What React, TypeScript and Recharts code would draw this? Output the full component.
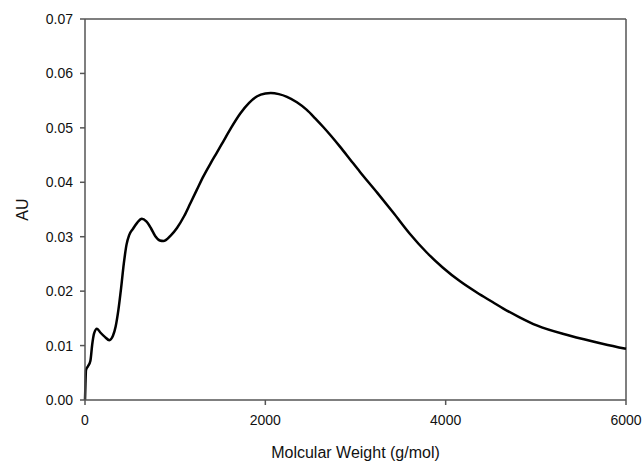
import { LineChart, Line, XAxis, YAxis, ReferenceLine } from 'recharts';

// Molecular weight (g/mol) sample positions
const weights = [
  0, 5, 11, 33, 60, 80, 100, 133, 170, 220, 270, 310, 340, 370, 400, 430, 460, 490,
  530, 580, 630, 680, 730, 780, 830, 870, 950, 1020, 1100, 1170, 1240, 1310, 1390,
  1464, 1530, 1620, 1720, 1820, 1910, 2000, 2060, 2150, 2240, 2350, 2460, 2550,
  2640, 2730, 2830, 2940, 3050, 3240, 3420, 3600, 3790, 3970, 4160, 4350, 4520,
  4640, 4820, 5010, 5380, 5750, 6000,
];

// Absorbance (AU) at each weight
const absorbance = [
  0, 0.003, 0.0055, 0.0062, 0.0072, 0.0102, 0.0122, 0.0131, 0.0124, 0.0116, 0.011,
  0.0118, 0.0135, 0.0165, 0.0205, 0.025, 0.0285, 0.0303, 0.0314, 0.0326, 0.0333,
  0.0328, 0.0316, 0.0301, 0.0293, 0.0292, 0.0302, 0.0316, 0.0338, 0.0362, 0.0386,
  0.041, 0.0434, 0.0455, 0.0474, 0.05, 0.0526, 0.0546, 0.0558, 0.0563, 0.0564,
  0.0562, 0.0557, 0.0547, 0.0533, 0.0518, 0.0502, 0.0485, 0.0465, 0.0442, 0.0419,
  0.0381, 0.0344, 0.0306, 0.0271, 0.0243, 0.0218, 0.0197, 0.018, 0.0168, 0.0152,
  0.0137, 0.0118, 0.0103, 0.0094,
];

const xTicks = [0, 2000, 4000, 6000];
const yTicks = [0, 0.01, 0.02, 0.03, 0.04, 0.05, 0.06, 0.07];

const chartData = weights.map((w, i) => ({ mw: w, au: absorbance[i] }));

const axisColor = '#555';
const font = '"Liberation Sans", Arial, sans-serif';

export default function App() {
  return (
    <div style={{ position: 'absolute', left: 0, top: 0, background: '#fff' }}>
      <LineChart
        width={642}
        height={461}
        data={chartData}
        margin={{ top: 19, right: 16, left: 0, bottom: 0 }}
        style={{ fontFamily: font }}
      >
        <XAxis
          dataKey="mw"
          type="number"
          domain={[0, 6000]}
          ticks={xTicks}
          height={61}
          stroke={axisColor}
          strokeWidth={1.5}
          tickSize={5}
          tickMargin={10}
          tick={{ fill: '#111', fontSize: 14 }}
          label={{
            value: 'Molcular Weight (g/mol)',
            position: 'insideBottom',
            offset: 3,
            fill: '#111',
            fontSize: 16,
          }}
        />
        <YAxis
          type="number"
          domain={[0, 0.07]}
          ticks={yTicks}
          width={85}
          stroke={axisColor}
          strokeWidth={1.5}
          tickSize={5}
          tickMargin={7}
          tick={{ fill: '#111', fontSize: 14 }}
          tickFormatter={(v: number) => v.toFixed(2)}
          label={{
            value: 'AU',
            angle: -90,
            position: 'insideLeft',
            offset: 22,
            fill: '#111',
            fontSize: 16,
            style: { textAnchor: 'middle' },
          }}
        />
        <ReferenceLine y={0.07} stroke={axisColor} strokeWidth={1.5} />
        <ReferenceLine x={6000} stroke={axisColor} strokeWidth={1.5} />
        <Line
          dataKey="au"
          type="monotone"
          stroke="#000"
          strokeWidth={2.5}
          dot={false}
          isAnimationActive={false}
        />
      </LineChart>
    </div>
  );
}
